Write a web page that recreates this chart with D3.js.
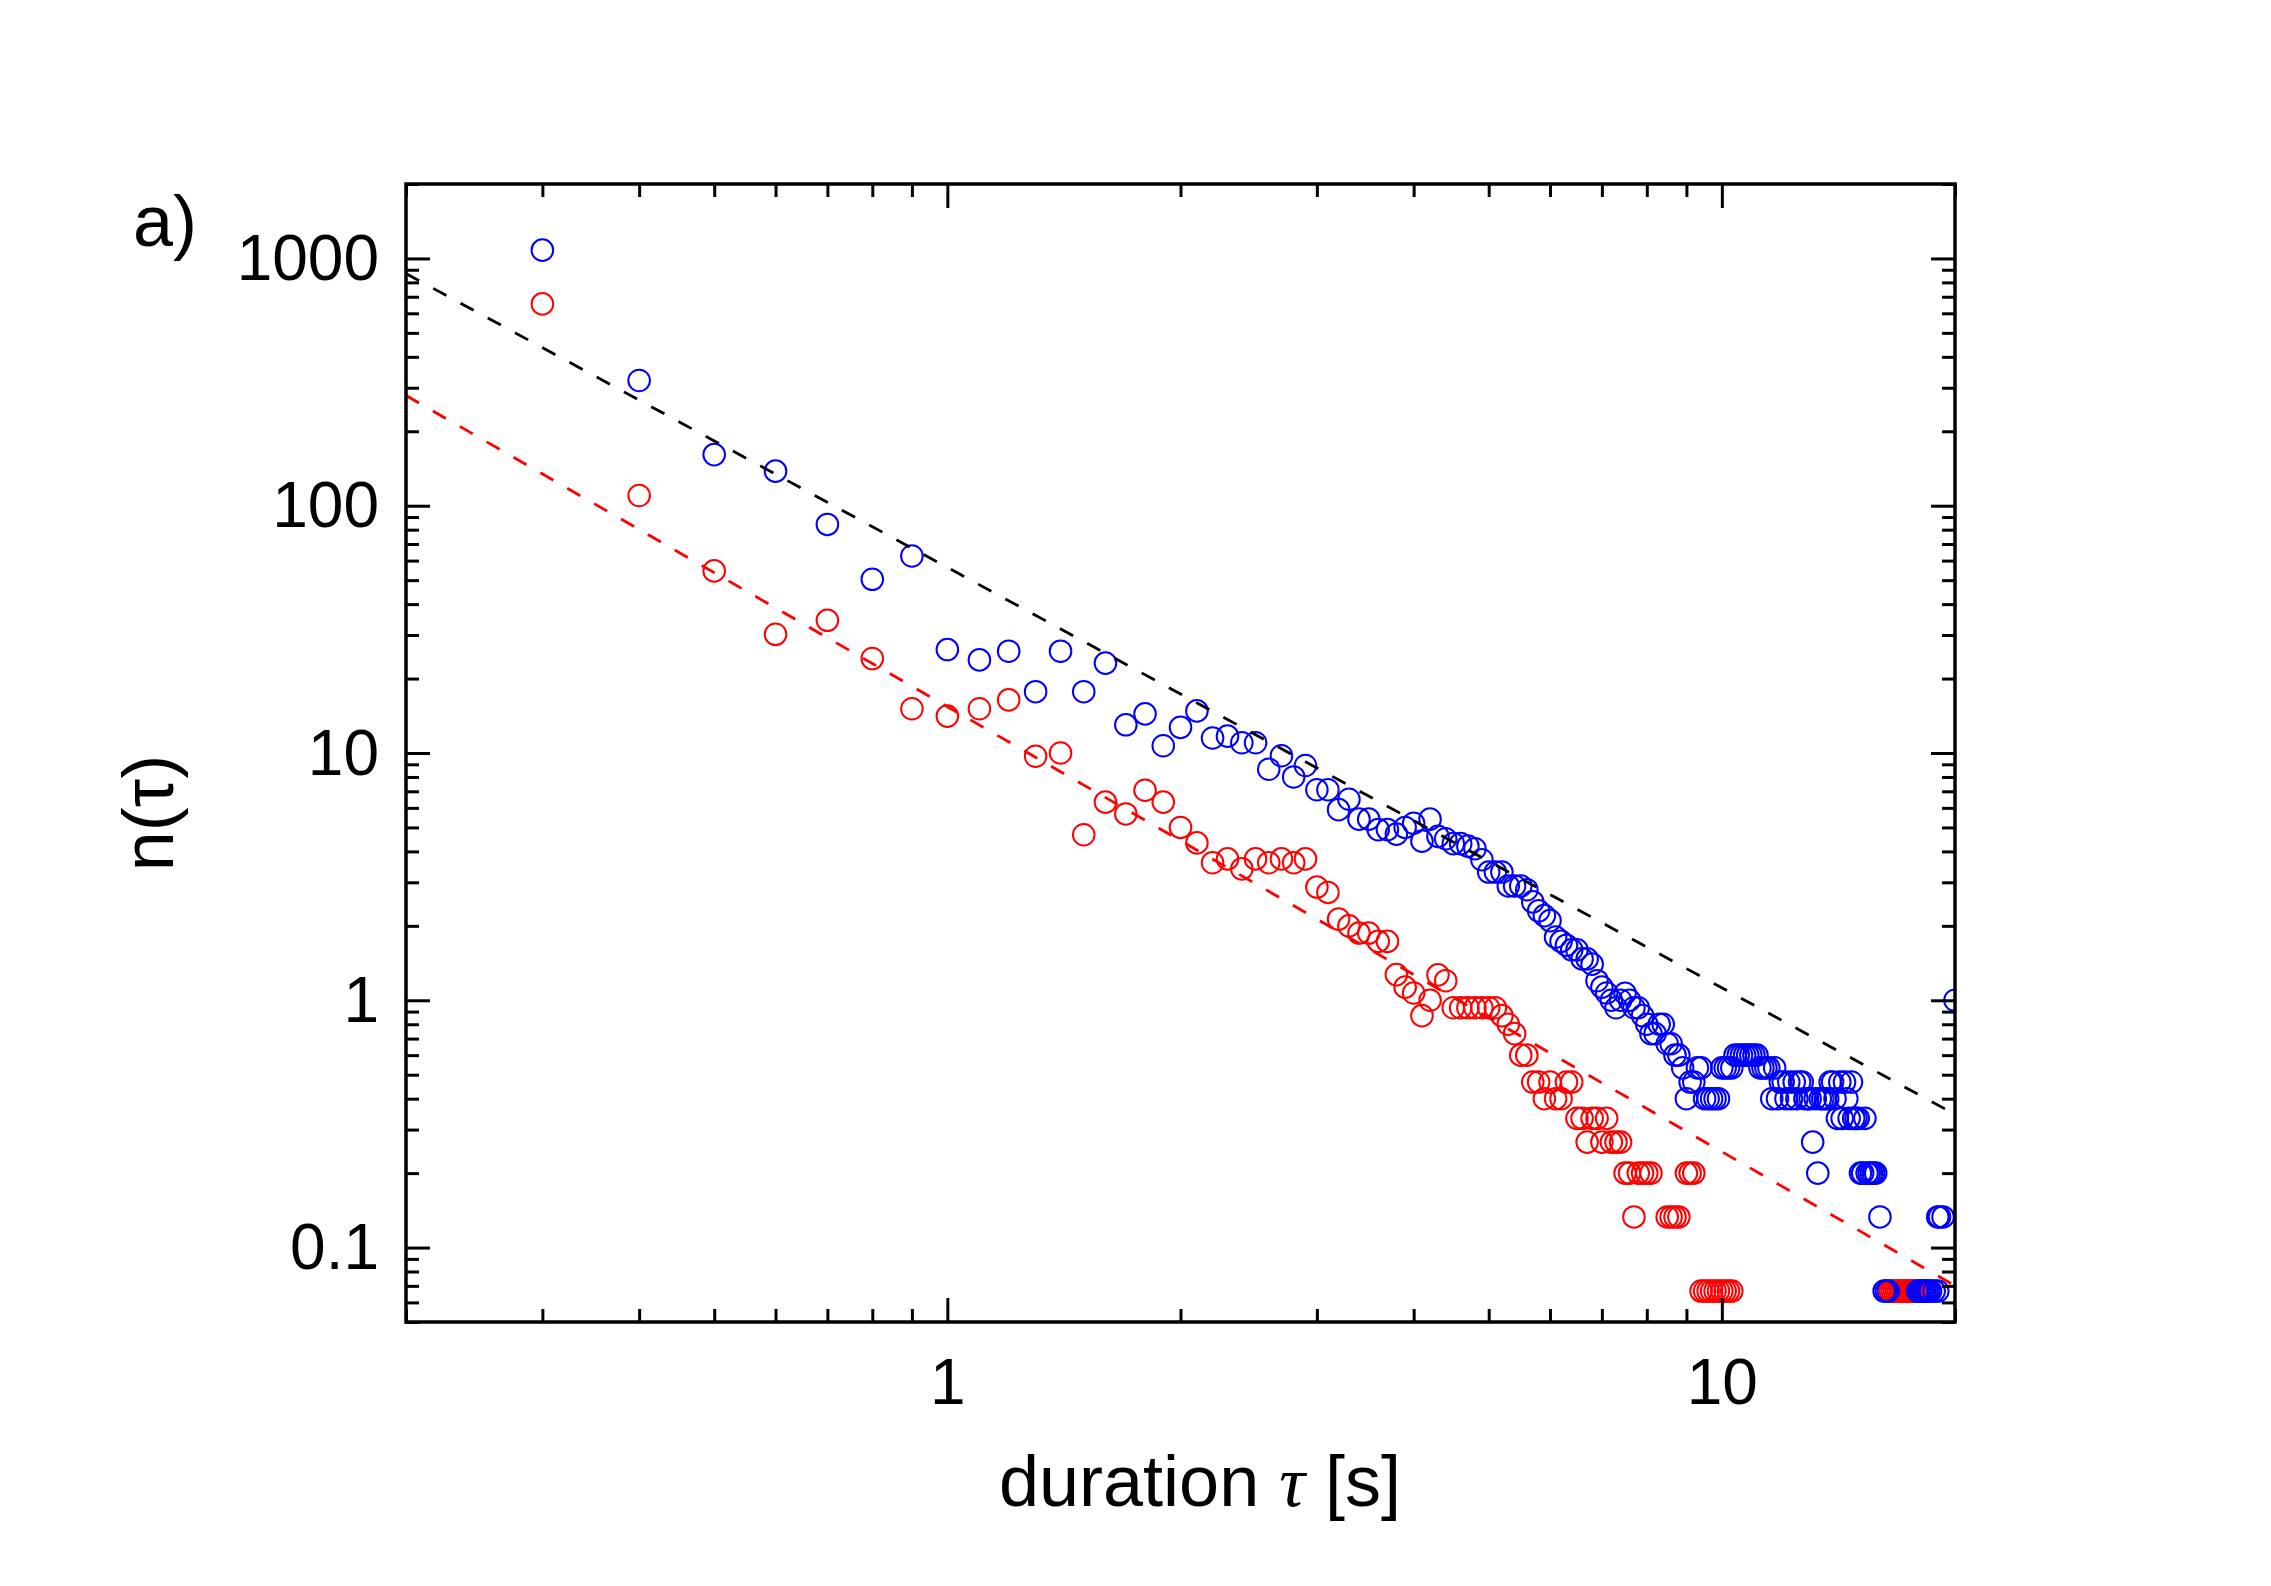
<!DOCTYPE html>
<html>
<head>
<meta charset="utf-8">
<script src="https://cdn.jsdelivr.net/npm/d3@7"></script>
<style>
  html, body { margin: 0; padding: 0; background: #fff; }
  svg { display: block; }
  text { font-family: "Liberation Sans", Arial, sans-serif; fill: #000; }
</style>
</head>
<body>
<svg id="chart" width="2271" height="1586"></svg>
<script>
// duration tau [s] vs n(tau), pairs of [tau, n]; zero counts are simply absent (log axis)
const blueSeries = [
  [0.3, 1080], [0.4, 321], [0.5, 161], [0.6, 138], [0.7, 84], [0.8, 50.4], [0.9, 62.6],
  [1.0, 26.2], [1.1, 23.8], [1.2, 25.8], [1.3, 17.7], [1.4, 25.8], [1.5, 17.7], [1.6, 23.1],
  [1.7, 13.0], [1.8, 14.4], [1.9, 10.7], [2.0, 12.7], [2.1, 14.8], [2.2, 11.5], [2.3, 11.7],
  [2.4, 11.0], [2.5, 11.0], [2.6, 8.6], [2.7, 9.75], [2.8, 8.0], [2.9, 8.9],
  [3.0, 7.1], [3.1, 7.1], [3.2, 5.9], [3.3, 6.5], [3.4, 5.4], [3.5, 5.4], [3.6, 4.9],
  [3.7, 4.9], [3.8, 4.7], [3.9, 5.0], [4.0, 5.2], [4.1, 4.4], [4.2, 5.4], [4.3, 4.6],
  [4.4, 4.5], [4.5, 4.3], [4.6, 4.3], [4.7, 4.2], [4.8, 4.1], [4.9, 3.7],
  [5.0, 3.3], [5.1, 3.3], [5.2, 3.3], [5.3, 2.9], [5.4, 2.9], [5.5, 2.9], [5.6, 2.8],
  [5.7, 2.5], [5.8, 2.3], [5.9, 2.2], [6.0, 2.1], [6.1, 1.8], [6.2, 1.73], [6.3, 1.67],
  [6.4, 1.6], [6.5, 1.6], [6.6, 1.47], [6.7, 1.47], [6.8, 1.4], [6.9, 1.2],
  [7.0, 1.13], [7.1, 1.07], [7.2, 1.0], [7.3, 0.933], [7.4, 1.0], [7.5, 1.067], [7.6, 1.0],
  [7.7, 0.933], [7.8, 0.933], [7.9, 0.867], [8.0, 0.8], [8.1, 0.733], [8.2, 0.733],
  [8.3, 0.8], [8.4, 0.8], [8.5, 0.667], [8.6, 0.667], [8.7, 0.6], [8.8, 0.6], [8.9, 0.533],
  [9.0, 0.4], [9.1, 0.467], [9.2, 0.467], [9.3, 0.533], [9.4, 0.533], [9.5, 0.4], [9.6, 0.4],
  [9.7, 0.4], [9.8, 0.4], [9.9, 0.4], [10.0, 0.533], [10.1, 0.533], [10.2, 0.533],
  [10.3, 0.533], [10.4, 0.6], [10.5, 0.6], [10.6, 0.6], [10.7, 0.6], [10.8, 0.6], [10.9, 0.6],
  [11.0, 0.6], [11.1, 0.6], [11.2, 0.533], [11.3, 0.533], [11.4, 0.533], [11.5, 0.533],
  [11.6, 0.4], [11.7, 0.533], [11.8, 0.4], [11.9, 0.467], [12.0, 0.467], [12.1, 0.4],
  [12.2, 0.467], [12.3, 0.4], [12.4, 0.467], [12.5, 0.4], [12.6, 0.467], [12.7, 0.467],
  [12.8, 0.4], [12.9, 0.4], [13.0, 0.4], [13.1, 0.267], [13.2, 0.4], [13.3, 0.2],
  [13.4, 0.4], [13.5, 0.4], [13.6, 0.4], [13.7, 0.4], [13.8, 0.467], [13.9, 0.467],
  [14.0, 0.4], [14.1, 0.333], [14.2, 0.467], [14.3, 0.333], [14.4, 0.467], [14.5, 0.4],
  [14.6, 0.333], [14.7, 0.467], [14.8, 0.333], [14.9, 0.333], [15.0, 0.333], [15.1, 0.2],
  [15.2, 0.2], [15.3, 0.333], [15.4, 0.2], [15.5, 0.2], [15.6, 0.2], [15.7, 0.2], [15.8, 0.2],
  [16.0, 0.133], [16.2, 0.0667], [16.3, 0.0667], [16.4, 0.0667],
  [17.9, 0.0667], [18.0, 0.0667], [18.1, 0.0667], [18.2, 0.0667], [18.3, 0.0667],
  [18.4, 0.0667], [18.5, 0.0667], [18.6, 0.0667], [18.8, 0.0667], [19.0, 0.0667],
  [19.0, 0.133], [19.1, 0.133], [19.3, 0.133], [20.0, 1.0]
];

const redSeries = [
  [0.3, 655], [0.4, 110], [0.5, 54.5], [0.6, 30.2], [0.7, 34.4], [0.8, 24.1], [0.9, 15.1],
  [1.0, 14.1], [1.1, 15.1], [1.2, 16.4], [1.3, 9.7], [1.4, 10.0], [1.5, 4.67], [1.6, 6.33],
  [1.7, 5.67], [1.8, 7.07], [1.9, 6.33], [2.0, 5.0], [2.1, 4.33], [2.2, 3.6], [2.3, 3.73],
  [2.4, 3.4], [2.5, 3.73], [2.6, 3.6], [2.7, 3.73], [2.8, 3.6], [2.9, 3.73],
  [3.0, 2.87], [3.1, 2.73], [3.2, 2.13], [3.3, 2.0], [3.4, 1.87], [3.5, 1.87], [3.6, 1.73],
  [3.7, 1.73], [3.8, 1.27], [3.9, 1.13], [4.0, 1.07], [4.1, 0.867], [4.2, 1.0], [4.3, 1.267],
  [4.4, 1.2], [4.5, 0.933], [4.6, 0.933], [4.7, 0.933], [4.8, 0.933], [4.9, 0.933],
  [5.0, 0.933], [5.1, 0.933], [5.2, 0.867], [5.3, 0.8], [5.4, 0.733], [5.5, 0.6], [5.6, 0.6],
  [5.7, 0.467], [5.8, 0.467], [5.9, 0.4], [6.0, 0.467], [6.1, 0.4], [6.2, 0.4], [6.3, 0.467],
  [6.4, 0.467], [6.5, 0.333], [6.6, 0.333], [6.7, 0.267], [6.8, 0.333], [6.9, 0.333],
  [7.0, 0.267], [7.1, 0.333], [7.2, 0.267], [7.3, 0.267], [7.4, 0.267], [7.5, 0.2],
  [7.6, 0.2], [7.7, 0.133], [7.8, 0.2], [7.9, 0.2], [8.0, 0.2], [8.1, 0.2],
  [8.5, 0.133], [8.6, 0.133], [8.7, 0.133], [8.8, 0.133], [9.0, 0.2], [9.1, 0.2], [9.2, 0.2],
  [9.4, 0.0667], [9.5, 0.0667], [9.6, 0.0667], [9.7, 0.0667], [9.8, 0.0667],
  [9.9, 0.0667], [10.0, 0.0667], [10.1, 0.0667], [10.2, 0.0667], [10.3, 0.0667],
  [16.5, 0.0667], [16.6, 0.0667], [16.7, 0.0667], [16.8, 0.0667], [16.9, 0.0667],
  [17.0, 0.0667], [17.1, 0.0667], [17.2, 0.0667], [17.3, 0.0667], [17.4, 0.0667],
  [17.5, 0.0667], [17.6, 0.0667], [17.7, 0.0667], [17.8, 0.0667]
];

// power-law fits n = amp * tau^slope
const blackFit = [56.3, -1.70];
const redFit = [15.4, -1.80];
const fitRange = [0.2, 20];

const xDomain = [0.2, 20];
const yDomain = [0.05, 2000];
const xMajor = [1, 10];
const xTickLabels = ["1", "10"];
const yMajor = [0.1, 1, 10, 100, 1000];
const yTickLabels = ["0.1", "1", "10", "100", "1000"];

const svg = d3.select("#chart");
const pLeft = 406, pRight = 1955, pTop = 184, pBottom = 1322;

const x = d3.scaleLog().domain(xDomain).range([pLeft, pRight]);
const y = d3.scaleLog().domain(yDomain).range([pBottom, pTop]);

const isPow10 = (v) => Math.abs(Math.log10(v) - Math.round(Math.log10(v))) < 1e-6;
const xMinor = x.ticks().filter((v) => !isPow10(v));
const yMinor = y.ticks().filter((v) => !isPow10(v));

svg.append("defs").append("clipPath").attr("id", "plotclip")
  .append("rect")
  .attr("x", pLeft).attr("y", pTop)
  .attr("width", pRight - pLeft).attr("height", pBottom - pTop);

const plot = svg.append("g").attr("clip-path", "url(#plotclip)");

// markers: red first, blue on top
plot.append("g").selectAll("circle")
  .data(redSeries)
  .join("circle")
  .attr("cx", (d) => x(d[0]))
  .attr("cy", (d) => y(d[1]))
  .attr("r", 10.8)
  .attr("fill", "none")
  .attr("stroke", "#ff0000")
  .attr("stroke-width", 2);

plot.append("g").selectAll("circle")
  .data(blueSeries)
  .join("circle")
  .attr("cx", (d) => x(d[0]))
  .attr("cy", (d) => y(d[1]))
  .attr("r", 10.8)
  .attr("fill", "none")
  .attr("stroke", "#0000ff")
  .attr("stroke-width", 2);

// fit lines (straight in log-log)
function fitLine(fit, color) {
  const line = d3.line()
    .x((t) => x(t))
    .y((t) => y(fit[0] * Math.pow(t, fit[1])));
  plot.append("path")
    .datum(fitRange)
    .attr("d", line)
    .attr("fill", "none")
    .attr("stroke", color)
    .attr("stroke-width", 2.8)
    .attr("stroke-dasharray", "15,16");
}
fitLine(blackFit, "#000");
fitLine(redFit, "#ff0000");

// axes: ticks inward on all four sides
function styleAxis(g) {
  g.select(".domain").remove();
  g.selectAll("line").attr("stroke", "#000").attr("stroke-width", 3);
  g.attr("font-family", "Liberation Sans, Arial, sans-serif").attr("font-size", 64);
}

svg.append("g").attr("transform", `translate(0,${pBottom})`)
  .call(d3.axisBottom(x).tickValues(xMinor).tickFormat("").tickSizeInner(-13).tickSizeOuter(0))
  .call(styleAxis);
svg.append("g").attr("transform", `translate(0,${pBottom})`)
  .call(d3.axisBottom(x).tickValues(xMajor).tickFormat((d, i) => xTickLabels[i]).tickSizeInner(-24).tickSizeOuter(0))
  .call(styleAxis)
  .selectAll("text").attr("y", 82).attr("dy", null);

svg.append("g").attr("transform", `translate(0,${pTop})`)
  .call(d3.axisTop(x).tickValues(xMinor).tickFormat("").tickSizeInner(-13).tickSizeOuter(0))
  .call(styleAxis);
svg.append("g").attr("transform", `translate(0,${pTop})`)
  .call(d3.axisTop(x).tickValues(xMajor).tickFormat("").tickSizeInner(-24).tickSizeOuter(0))
  .call(styleAxis);

svg.append("g").attr("transform", `translate(${pLeft},0)`)
  .call(d3.axisLeft(y).tickValues(yMinor).tickFormat("").tickSizeInner(-13).tickSizeOuter(0))
  .call(styleAxis);
svg.append("g").attr("transform", `translate(${pLeft},0)`)
  .call(d3.axisLeft(y).tickValues(yMajor).tickFormat((d, i) => yTickLabels[i]).tickSizeInner(-24).tickSizeOuter(0).tickPadding(27))
  .call(styleAxis)
  .selectAll("text").attr("dy", "0.33em");

svg.append("g").attr("transform", `translate(${pRight},0)`)
  .call(d3.axisRight(y).tickValues(yMinor).tickFormat("").tickSizeInner(-13).tickSizeOuter(0))
  .call(styleAxis);
svg.append("g").attr("transform", `translate(${pRight},0)`)
  .call(d3.axisRight(y).tickValues(yMajor).tickFormat("").tickSizeInner(-24).tickSizeOuter(0))
  .call(styleAxis);

// frame
svg.append("rect")
  .attr("x", pLeft).attr("y", pTop)
  .attr("width", pRight - pLeft).attr("height", pBottom - pTop)
  .attr("fill", "none")
  .attr("stroke", "#000")
  .attr("stroke-width", 3.5);

// titles
const xt = svg.append("text")
  .attr("x", 1200).attr("y", 1506)
  .attr("text-anchor", "middle")
  .attr("font-size", 72);
xt.append("tspan").text("duration ");
xt.append("tspan").attr("font-family", "Liberation Serif, serif").attr("font-style", "italic").text("τ");
xt.append("tspan").text(" [s]");

svg.append("text")
  .attr("transform", "translate(173,813) rotate(-90)")
  .attr("text-anchor", "middle")
  .attr("font-size", 72)
  .text("n(τ)");

svg.append("text")
  .attr("x", 133).attr("y", 246)
  .attr("font-size", 72)
  .text("a)");
</script>
</body>
</html>
